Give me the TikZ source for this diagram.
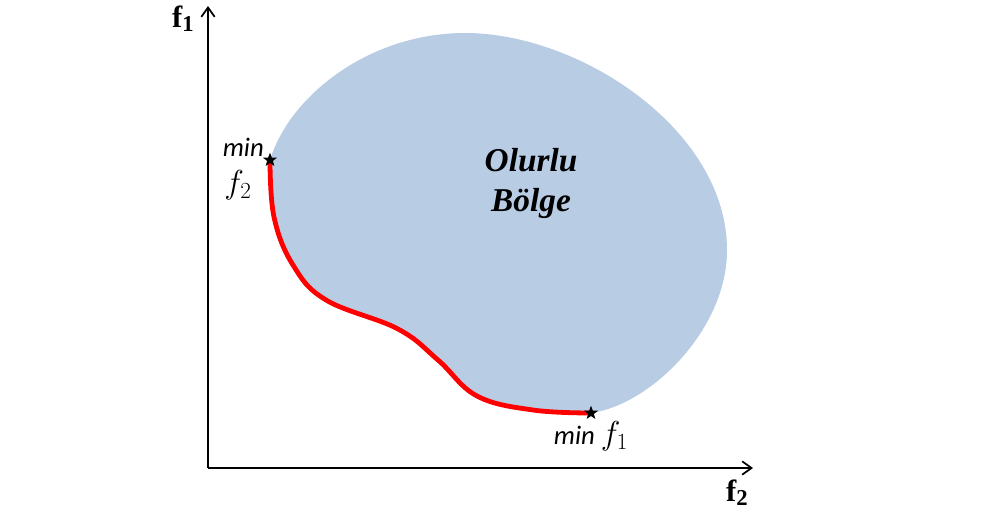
\documentclass[tikz,border=0pt]{standalone}
\usepackage{fontspec}
\setmainfont{Liberation Serif}
\newfontfamily\calib{Carlito}
\usetikzlibrary{shapes.geometric,arrows.meta}
\definecolor{blobblue}{HTML}{B8CCE4}
\newcommand{\bigf}[1]{{\fontsize{24}{26}\selectfont$f_{#1}$}}
\begin{document}
\begin{tikzpicture}[x=0.75pt,y=-0.75pt,
  axis/.style={line width=1.6pt,-{Straight Barb[length=7pt,width=10pt,line width=1.3pt]}},
  pareto/.style={red,line width=3.6pt},
  starmark/.style={star,star points=5,star point ratio=2.4,fill=black,inner sep=0pt,minimum size=11pt},
  axlabel/.style={font=\fontsize{23}{25}\selectfont\bfseries},
  minlabel/.style={font=\calib\itshape\fontsize{20}{22}\selectfont,inner sep=0pt},
  region/.style={font=\fontsize{25}{30}\selectfont\bfseries\itshape,align=center}]
\useasboundingbox (0,0) rectangle (984,518);
\fill[white] (0,0) rectangle (984,518);
% key points
\coordinate (A) at (270,160);
\coordinate (T) at (465,33);
\coordinate (R) at (727,250);
\coordinate (B) at (591,413);
% feasible region
\fill[blobblue]
  plot[smooth,tension=0.65] coordinates {(270,160) (274,217) (293,265) (326,300) (398,329) (438,360) (477,396) (533,410) (591,413)}
  .. controls (650,405) and (727,330) .. (R)
  .. controls (727,130) and (580,33) .. (T)
  .. controls (370,33) and (290,95) .. (A) -- cycle;
\draw[pareto,line cap=round]
  plot[smooth,tension=0.65] coordinates {(270,160) (274,217) (293,265) (326,300) (398,329) (438,360) (477,396) (533,410) (591,413)};
% axes
\coordinate (O) at (208,468);
\coordinate (ytip) at (208,6);
\coordinate (xtip) at (753,468);
\draw[axis] (O) -- (ytip);
\draw[axis] (O) -- (xtip);
\node[axlabel] (f1) at (183,19) {f\raisebox{-0.3ex}{\fontsize{17}{18}\selectfont 1}};
\node[axlabel] (f2) at (737,493) {f\raisebox{-0.3ex}{\fontsize{17}{18}\selectfont 2}};
% stars
\node[starmark] (s2) at (A) {};
\node[starmark] (s1) at (B) {};
\node[minlabel,anchor=base east] (m2a) at (264,156) {min};
\node[minlabel] (m2b) at (238,185) {\bigf{2}};
\node[minlabel] (m1) at (591,436) {min \bigf{1}};
% region label
\node[region] (reg) at (531,183) {Olurlu\\Bölge};
\end{tikzpicture}
\end{document}
